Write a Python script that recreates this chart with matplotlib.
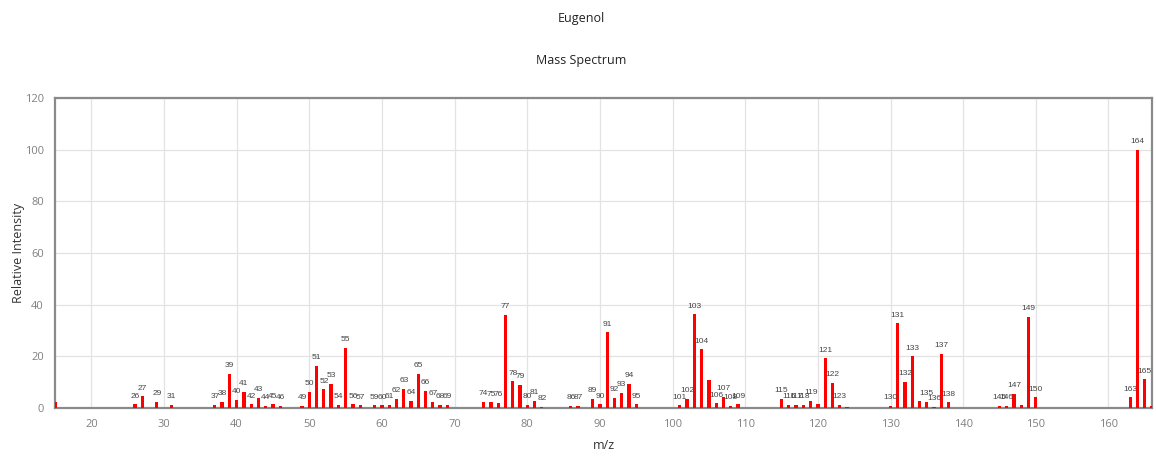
import matplotlib
matplotlib.use('Agg')
from matplotlib import pyplot as plt

# m/z and relative intensity
mz = [15, 26, 27, 29, 31, 37, 38, 39, 40, 41, 42, 43, 44, 45, 46,
      49, 50, 51, 52, 53, 54, 55, 56, 57, 59, 60, 61, 62, 63, 64, 65, 66, 67, 68, 69,
      74, 75, 76, 77, 78, 79, 80, 81, 82, 86, 87, 89, 90, 91, 92, 93, 94, 95,
      101, 102, 103, 104, 105, 106, 107, 108, 109,
      115, 116, 117, 118, 119, 120, 121, 122, 123, 124,
      130, 131, 132, 133, 134, 135, 136, 137, 138,
      145, 146, 147, 148, 149, 150, 163, 164, 165, 166]
intensity = [2.2, 1.5, 4.5, 2.3, 1.3, 1.3, 2.4, 13.2, 3.2, 6.2, 1.5, 3.9, 0.8, 1.5, 0.9,
             0.9, 6.4, 16.4, 7.3, 9.4, 1.3, 23.2, 1.5, 1.0, 1.1, 1.0, 1.3, 3.5, 7.5, 2.7, 13.3, 6.8, 2.3, 1.3, 1.3,
             2.3, 2.2, 2.0, 36.0, 10.3, 9.0, 1.3, 2.8, 0.6, 0.8, 0.8, 3.5, 1.4, 29.3, 4.0, 5.8, 9.3, 1.5,
             1.0, 3.5, 36.3, 22.8, 10.7, 1.8, 4.4, 0.9, 1.5,
             3.6, 1.2, 1.2, 1.3, 2.9, 1.5, 19.2, 9.8, 1.3, 0.6,
             0.8, 32.8, 10.1, 20.0, 2.8, 2.3, 0.6, 21.0, 2.2,
             0.8, 0.8, 5.5, 1.2, 35.4, 4.1, 4.1, 100.0, 11.1, 0.9]
# peaks without a text label in the reference
unlabeled = [15, 105, 120, 124, 134, 148, 166]

fig = plt.figure(figsize=(11.56, 4.58), dpi=100)
ax = fig.add_axes([0.0476, 0.109, 0.949, 0.677])

ax.bar(mz, intensity, width=0.45, color='#ff0000', zorder=3)
for m, v in zip(mz, intensity):
    if m in unlabeled:
        continue
    ax.text(m, v + 1.8, str(m), ha='center', va='bottom', fontsize=6,
            color='#444444', family='Liberation Sans', zorder=4)

ax.set_xlim(min(mz), max(mz))
ax.set_ylim(0, 120)
ax.set_xticks(range(20, 170, 10))
ax.set_yticks(range(0, 121, 20))
ax.grid(True, color='#e3e3e3', linewidth=0.9, zorder=0)
for s in ax.spines.values():
    s.set_color('#8a8a8a')
    s.set_linewidth(1.6)
ax.tick_params(length=0, labelsize=8, colors='#808080', pad=8)
for lbl in ax.get_xticklabels() + ax.get_yticklabels():
    lbl.set_family('Open Sans')

ax.set_xlabel('m/z', fontsize=9, family='Open Sans', color='#333333', labelpad=6)
ax.set_ylabel('Relative Intensity', fontsize=9, family='Open Sans', color='#333333', labelpad=0)

fig.text(0.503, 0.96, 'Eugenol', ha='center', va='center', fontsize=9, family='Open Sans', color='#222222')
fig.text(0.503, 0.868, 'Mass Spectrum', ha='center', va='center', fontsize=9, family='Open Sans', color='#222222')

fig.savefig('out.png', dpi=100)
